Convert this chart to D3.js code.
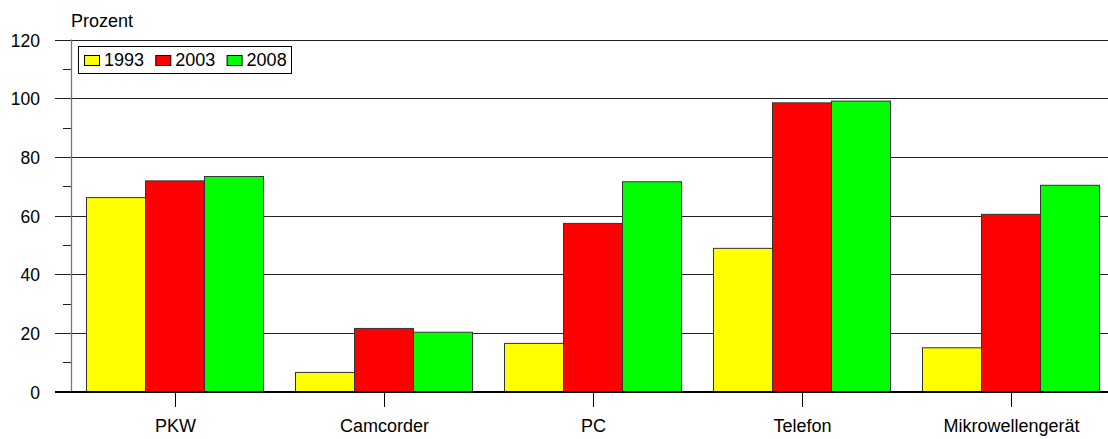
<!DOCTYPE html>
<html>
<head>
<meta charset="utf-8">
<script src="https://cdn.jsdelivr.net/npm/d3@7"></script>
<style>
    body { margin: 0; background: #fff; }
    svg text { font-family: "Liberation Sans", Arial, sans-serif; }
</style>
</head>
<body>
<svg id="chart" width="1108" height="439"></svg>
<script>
var categories = ["PKW", "Camcorder", "PC", "Telefon", "Mikrowellengerät"];
var years = ["1993", "2003", "2008"];
var colors = ["#ffff00", "#ff0000", "#00ff00"];
var v1993 = [66.1, 6.5, 16.4, 48.8, 14.9];
var v2003 = [71.8, 21.5, 57.3, 98.4, 60.4];
var v2008 = [73.3, 20.2, 71.5, 99.0, 70.3];
var yTicks = [0, 20, 40, 60, 80, 100, 120];
var yMinor = [10, 30, 50, 70, 90, 110];

var main;
(function (main) {
    function ini() {
        let svg = d3.select("#chart");
        let series = [v1993, v2003, v2008];

        let x = d3.scaleBand().domain(categories).range([70.5, 1115.5]).paddingInner(0.153).paddingOuter(0.0765);
        let xs = d3.scaleBand().domain(years).range([0, x.bandwidth()]);
        let y = d3.scaleLinear().domain([0, 120]).range([391.5, 39.5]);

        // gridlines
        svg.append("g").selectAll("line").data(yTicks).enter().append("line")
            .attr("x1", 55).attr("x2", 1108)
            .attr("y1", d => Math.round(y(d)) + 0.5).attr("y2", d => Math.round(y(d)) + 0.5)
            .attr("stroke", d => d == 0 ? "#000" : "#222").attr("stroke-width", 1);

        // minor ticks
        svg.append("g").selectAll("line").data(yMinor).enter().append("line")
            .attr("x1", 63).attr("x2", 71)
            .attr("y1", d => Math.round(y(d)) + 0.5).attr("y2", d => Math.round(y(d)) + 0.5)
            .attr("stroke", "#222");

        // y labels
        svg.append("g").selectAll("text").data(yTicks).enter().append("text")
            .attr("x", 40).attr("y", d => y(d) + 7)
            .attr("text-anchor", "end").attr("font-size", 17.5).attr("fill", "#000")
            .text(d => d);

        svg.append("text").attr("x", 71).attr("y", 26.5).attr("font-size", 18).text("Prozent");

        // bars
        let groups = svg.append("g").selectAll("g").data(categories).enter().append("g")
            .attr("transform", d => "translate(" + x(d) + ",0)");
        groups.each(function (c, i) {
            let g = d3.select(this);
            series.forEach((s, j) => {
                g.append("rect")
                    .attr("x", xs(years[j]))
                    .attr("y", y(s[i]))
                    .attr("width", xs.bandwidth())
                    .attr("height", y(0) - y(s[i]))
                    .attr("fill", colors[j])
                    .attr("stroke", "#333").attr("stroke-width", 1);
            });
        });

        // y axis line
        svg.append("line").attr("x1", 71.5).attr("x2", 71.5).attr("y1", 39.5).attr("y2", 392)
            .attr("stroke", "#777").attr("stroke-width", 1.3);

        // baseline
        svg.append("line").attr("x1", 55).attr("x2", 1108).attr("y1", 391.5).attr("y2", 391.5)
            .attr("stroke", "#000");

        // category ticks and labels
        let cx = svg.append("g").selectAll("g").data(categories).enter().append("g")
            .attr("transform", d => "translate(" + (Math.round(x(d) + x.bandwidth() / 2) + 0.5) + ",0)");
        cx.append("line").attr("y1", 391.5).attr("y2", 407).attr("stroke", "#000");
        cx.append("text").attr("y", 432).attr("text-anchor", "middle").attr("font-size", 18).text(d => d);

        // legend
        let leg = svg.append("g");
        leg.append("rect").attr("x", 78.5).attr("y", 46.5).attr("width", 213).attr("height", 27)
            .attr("fill", "#fff").attr("stroke", "#000");
        let items = leg.selectAll("g").data(years).enter().append("g")
            .attr("transform", (d, i) => "translate(" + (84 + i * 71.3) + ",0)");
        items.append("rect").attr("x", 0.5).attr("y", 55.5).attr("width", 15).attr("height", 10)
            .attr("fill", (d, i) => colors[i]).attr("stroke", "#000");
        items.append("text").attr("x", 20).attr("y", 66).attr("font-size", 18).text(d => d);
    }
    main.ini = ini;
})(main || (main = {}));
let _main = main.ini();
</script>
</body>
</html>
